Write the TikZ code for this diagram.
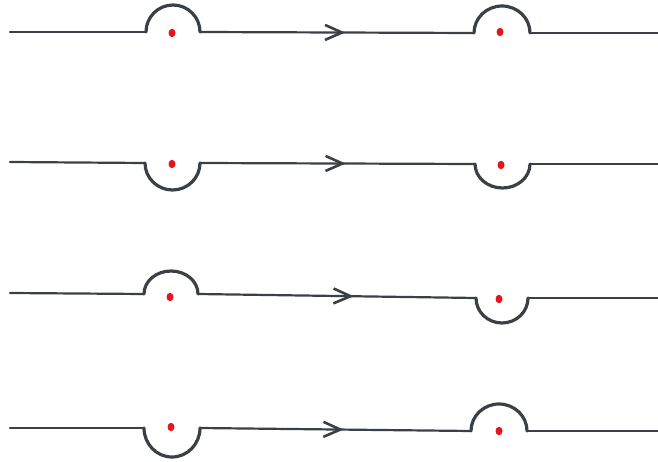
\documentclass[tikz,border=0pt]{standalone}
\usetikzlibrary{arrows.meta,decorations.markings}
\definecolor{ink}{HTML}{3A4046}
\definecolor{dotred}{HTML}{E8141B}
\tikzset{
  wire/.style={draw=ink,line width=2.2pt,line join=round,line cap=round},
  bump/.style={draw=ink,line width=3.2pt,line join=round,line cap=round},
  midarrow/.style={postaction={decorate},decoration={markings,
     mark=at position #1 with {\arrow{Straight Barb[length=17pt,width=15pt,line width=2.6pt]}}}},
  pole/.style={ellipse,fill=dotred,inner sep=0pt,minimum width=7pt,minimum height=8.5pt},
}
\usetikzlibrary{shapes.geometric}
\begin{document}
\begin{tikzpicture}[x=1pt,y=1pt]
\useasboundingbox (0,0) rectangle (658,461);
% ---------- row 1 : up / up
\coordinate (s1) at (10,429);
\coordinate (a1) at (146,429);
\coordinate (b1) at (200,429);
\coordinate (c1) at (474,428);
\coordinate (d1) at (530,428);
\coordinate (e1) at (658,428);
\node[pole] (p11) at (172,428) {};
\node[pole] (p12) at (500,429) {};
\draw[wire] (s1) -- (a1);
\draw[bump] (a1) arc[start angle=180,end angle=0,x radius=27pt,y radius=27pt];
\draw[wire,midarrow=0.53] (b1) -- (c1);
\draw[bump] (c1) arc[start angle=180,end angle=0,x radius=28pt,y radius=27pt];
\draw[wire] (d1) -- (e1);
% ---------- row 2 : down / down
\coordinate (s2) at (10,299);
\coordinate (a2) at (145,298);
\coordinate (b2) at (200,298);
\coordinate (c2) at (475,297);
\coordinate (d2) at (530,297);
\coordinate (e2) at (658,297);
\node[pole] (p21) at (172,297) {};
\node[pole] (p22) at (501,296) {};
\draw[wire] (s2) -- (a2);
\draw[bump] (a2) arc[start angle=180,end angle=360,x radius=27.5pt,y radius=27pt];
\draw[wire,midarrow=0.53] (b2) -- (c2);
\draw[bump] (c2) arc[start angle=180,end angle=360,x radius=27.5pt,y radius=24pt];
\draw[wire] (d2) -- (e2);
% ---------- row 3 : up / down
\coordinate (s3) at (10,168);
\coordinate (a3) at (144,167);
\coordinate (b3) at (198,167);
\coordinate (c3) at (476,163);
\coordinate (d3) at (528,163);
\coordinate (e3) at (658,163);
\node[pole] (p31) at (170,164) {};
\node[pole] (p32) at (499,162) {};
\draw[wire] (s3) -- (a3);
\draw[bump] (a3) arc[start angle=180,end angle=0,x radius=27pt,y radius=23pt];
\draw[wire,midarrow=0.56] (b3) -- (c3);
\draw[bump] (c3) arc[start angle=180,end angle=360,x radius=26pt,y radius=25pt];
\draw[wire] (d3) -- (e3);
% ---------- row 4 : down / up
\coordinate (s4) at (10,33);
\coordinate (a4) at (144,33);
\coordinate (b4) at (200,33);
\coordinate (c4) at (471,30);
\coordinate (d4) at (527,30);
\coordinate (e4) at (658,30);
\node[pole] (p41) at (171,34) {};
\node[pole] (p42) at (499,30) {};
\draw[wire] (s4) -- (a4);
\draw[bump] (a4) arc[start angle=180,end angle=360,x radius=28pt,y radius=29pt];
\draw[wire,midarrow=0.53] (b4) -- (c4);
\draw[bump] (c4) arc[start angle=180,end angle=0,x radius=28pt,y radius=27pt];
\draw[wire] (d4) -- (e4);
\end{tikzpicture}
\end{document}
